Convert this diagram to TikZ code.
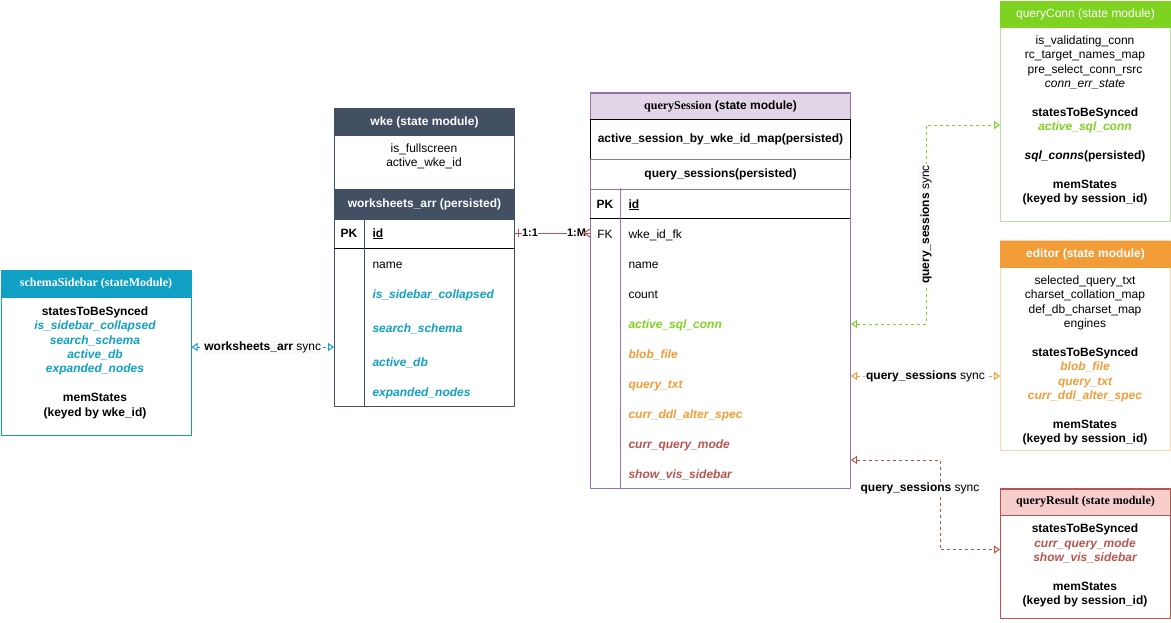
\documentclass[tikz,border=0pt]{standalone}
\usepackage{fontspec}
\setmainfont{Liberation Sans}
\newfontfamily\serifhead{Liberation Serif}
\usetikzlibrary{arrows.meta}
\definecolor{sideblue}{RGB}{16,160,196}
\definecolor{slate}{RGB}{67,80,99}
\definecolor{purpfill}{RGB}{225,213,231}
\definecolor{purpline}{RGB}{150,115,166}
\definecolor{conngreen}{RGB}{126,211,33}
\definecolor{connline}{RGB}{185,224,165}
\definecolor{edorange}{RGB}{242,156,55}
\definecolor{edline}{RGB}{250,215,172}
\definecolor{resred}{RGB}{184,84,80}
\definecolor{resfill}{RGB}{248,206,204}
\definecolor{labelbg}{RGB}{248,249,250}
\begin{document}
\begin{tikzpicture}[x=1pt, y=-1pt, line width=1pt, line join=round,
  font=\fontsize{12}{14.4}\selectfont,
  modbox/.style={draw=#1, anchor=north west, inner sep=0pt},
  modhead/.style={draw=#1, fill=#1, anchor=north west, inner sep=0pt, minimum height=26pt},
  field/.style={anchor=west, inner sep=0pt, text height=10pt, text depth=2pt},
  keycol/.style={inner sep=0pt, text height=10pt, text depth=2pt},
  block/.style={align=center, inner sep=0pt},
  sync/.style={dash pattern=on 3pt off 3pt,
    {Triangle[open,length=6pt,width=8pt]}-{Triangle[open,length=6pt,width=8pt]}},
  synclabel/.style={fill=labelbg, text=black, inner sep=1pt},
  cardlabel/.style={fill=white, text=black, inner sep=0.5pt, font=\fontsize{11}{13}\selectfont\bfseries}]
\useasboundingbox (0,0) rectangle (1171,622);

\node[modbox=sideblue, minimum width=190pt, minimum height=165pt] (sidebar) at (0.5,270) {};
\node[modhead=sideblue, minimum width=190pt, text=white] (sidebar-head) at (0.5,270.5) {\serifhead\bfseries schemaSidebar (stateModule)};
\node[block] (sidebar-txt) at (95,362.5) {\textbf{statesToBeSynced}\\
  \textcolor{sideblue}{\bfseries\itshape is\_sidebar\_collapsed}\\
  \textcolor{sideblue}{\bfseries\itshape search\_schema}\\
  \textcolor{sideblue}{\bfseries\itshape active\_db}\\
  \textcolor{sideblue}{\bfseries\itshape expanded\_nodes}\\[14.4pt]
  \textbf{memStates}\\ \textbf{(keyed by wke\_id)}};

\node[modbox=slate, minimum width=180pt, minimum height=298pt] (wke) at (334,108) {};
\node[modhead=slate, minimum width=180pt, text=white] (wke-head) at (334,108.5) {\bfseries wke (state module)};
\node[block] (wke-txt) at (424,156.5) {is\_fullscreen\\ active\_wke\_id};
\node[modhead=slate, minimum width=180pt, minimum height=30pt, text=white] (wke-arr) at (334,188.5) {\bfseries worksheets\_arr (persisted)};
\draw (334,248) -- (514,248);
\draw[slate] (364,218) -- (364,406);
\node[keycol] (wke-pk) at (349,233) {\bfseries PK};
\node[field] (wke-id) at (372,233) {\bfseries\underline{id}};
\node[field] (wke-name) at (372,264) {name};
\node[field, text=sideblue] (wke-collapsed) at (372,294) {\bfseries\itshape is\_sidebar\_collapsed};
\node[field, text=sideblue] (wke-schema) at (372,328) {\bfseries\itshape search\_schema};
\node[field, text=sideblue] (wke-db) at (372,362) {\bfseries\itshape active\_db};
\node[field, text=sideblue] (wke-nodes) at (372,392) {\bfseries\itshape expanded\_nodes};

\node[modbox=purpline, minimum width=260pt, minimum height=396pt] (qs) at (590,92) {};
\node[modhead=purpline, fill=purpfill, minimum width=260pt] (qs-head) at (590,92.5) {{\serifhead\bfseries querySession} \bfseries(state module)};
\node[modbox=black, minimum width=260pt, minimum height=40pt] (qs-map) at (590,119) {\bfseries active\_session\_by\_wke\_id\_map(persisted)};
\node[modbox=purpline, minimum width=260pt, minimum height=30pt] (qs-list) at (590,159) {\bfseries query\_sessions(persisted)};
\draw (590,218) -- (850,218);
\draw[purpline] (620,188) -- (620,488);
\node[keycol] (qs-pk) at (605,204) {\bfseries PK};
\node[field] (qs-id) at (628,204) {\bfseries\underline{id}};
\node[keycol] (qs-fk) at (605,234) {FK};
\node[field] (qs-wkeid) at (628,234) {wke\_id\_fk};
\node[field] (qs-name) at (628,264) {name};
\node[field] (qs-count) at (628,294) {count};
\node[field, text=conngreen] (qs-conn) at (628,324) {\bfseries\itshape active\_sql\_conn};
\node[field, text=edorange] (qs-blob) at (628,354) {\bfseries\itshape blob\_file};
\node[field, text=edorange] (qs-txt) at (628,384) {\bfseries\itshape query\_txt};
\node[field, text=edorange] (qs-ddl) at (628,414) {\bfseries\itshape curr\_ddl\_alter\_spec};
\node[field, text=resred] (qs-mode) at (628,444) {\bfseries\itshape curr\_query\_mode};
\node[field, text=resred] (qs-vis) at (628,474) {\bfseries\itshape show\_vis\_sidebar};

\node[modbox=connline, minimum width=170pt, minimum height=220pt] (qconn) at (1000,0.5) {};
\node[modhead=conngreen, minimum width=170pt, text=white] (qconn-head) at (1000,1) {queryConn (state module)};
\node[block] (qconn-txt) at (1085,120.5) {is\_validating\_conn\\ rc\_target\_names\_map\\
  pre\_select\_conn\_rsrc\\ \textit{conn\_err\_state}\\[14.4pt]
  \textbf{statesToBeSynced}\\ \textcolor{conngreen}{\bfseries\itshape active\_sql\_conn}\\[14.4pt]
  \textbf{\textit{sql\_conns}(persisted)}\\[14.4pt]
  \textbf{memStates}\\ \textbf{(keyed by session\_id)}};

\node[modbox=edline, minimum width=170pt, minimum height=210pt] (editor) at (1000,240) {};
\node[modhead=edorange, minimum width=170pt, text=white] (editor-head) at (1000,240.5) {\bfseries editor (state module)};
\node[block] (editor-txt) at (1085,360.5) {selected\_query\_txt\\ charset\_collation\_map\\
  def\_db\_charset\_map\\ engines\\[14.4pt]
  \textbf{statesToBeSynced}\\ \textcolor{edorange}{\bfseries\itshape blob\_file}\\
  \textcolor{edorange}{\bfseries\itshape query\_txt}\\
  \textcolor{edorange}{\bfseries\itshape curr\_ddl\_alter\_spec}\\[14.4pt]
  \textbf{memStates}\\ \textbf{(keyed by session\_id)}};

\node[modbox=resred, minimum width=170pt, minimum height=130pt] (qres) at (1000,488) {};
\node[modhead=resred, fill=resfill, minimum width=170pt] (qres-head) at (1000,488.5) {\serifhead\bfseries queryResult (state module)};
\node[block] (qres-txt) at (1085,565.5) {\textbf{statesToBeSynced}\\
  \textcolor{resred}{\bfseries\itshape curr\_query\_mode}\\
  \textcolor{resred}{\bfseries\itshape show\_vis\_sidebar}\\[14.4pt]
  \textbf{memStates}\\ \textbf{(keyed by session\_id)}};

\coordinate (wsync) at (262,347);
\draw[sync, sideblue] (wsync -| sidebar.east) -- node[synclabel]{\textbf{worksheets\_arr} sync} (wsync -| wke.west);

\draw[resred] (wke-id -| wke.east) -- node[cardlabel, pos=0.2]{1:1} node[cardlabel, pos=0.82]{1:M} (wke-id -| qs.west);
\draw[resred] (wke-id -| wke.east) ++(3,-4) -- ++(0,8);
\draw[resred] (wke-id -| qs.west) ++(0,-4) -- ++(-6,4) -- ++(6,4);

\draw[sync, conngreen] (qs-conn -| qs.east) -- ++(75,0) |- node[synclabel, rotate=90, pos=0.25]{\textbf{query\_sessions} sync} ([yshift=-14pt]qconn.west);

\coordinate (esync) at (925,376);
\draw[sync, edorange] (esync -| qs.east) -- node[synclabel]{\textbf{query\_sessions} sync} (esync -| editor.west);

\coordinate (rbend) at (940,460);
\draw[sync, resred] (rbend -| qs.east) -- (rbend) |- node[synclabel, pos=0.16, xshift=-20pt]{\textbf{query\_sessions} sync} ([yshift=4pt]qres.west);
\end{tikzpicture}
\end{document}
